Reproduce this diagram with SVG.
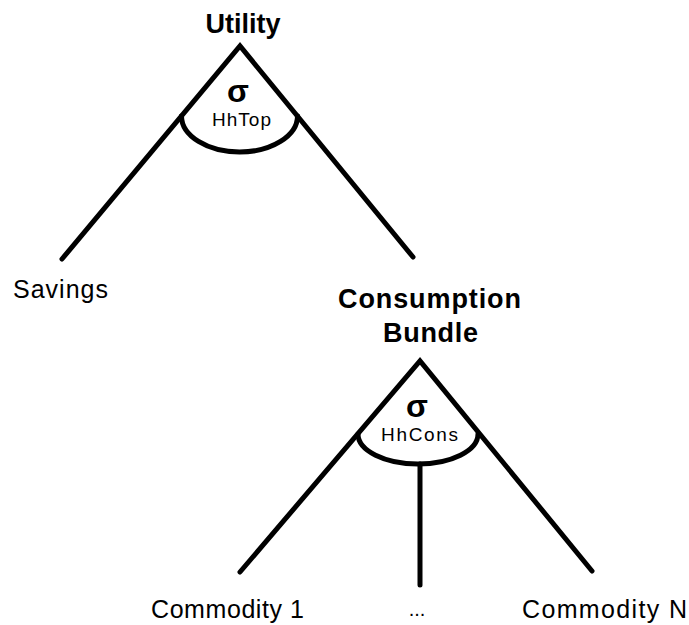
<svg xmlns="http://www.w3.org/2000/svg" width="689" height="625" viewBox="0 0 689 625">
<style>
text{font-family:"Liberation Sans",Arial,sans-serif;fill:#000}
.b{font-weight:bold;font-size:27px}
.l{font-size:25px}
.sig{font-weight:bold;font-size:32px}
.sub{font-size:19px}
.ln{stroke:#000;stroke-width:5;stroke-linecap:round;stroke-linejoin:miter;fill:none}
</style>
<rect width="689" height="625" fill="#fff"/>
<g id="connectors">
<polyline class="ln" points="62,259 240,46 413,257"/>
<polyline class="ln" points="240,572 420,361 592,571"/>
<line class="ln" x1="420" y1="464" x2="420" y2="585"/>
</g>
<g id="utility">
<text class="b" x="243" y="33" text-anchor="middle">Utility</text>
<path class="ln" d="M181.5,116 A58,36 0 0 0 297.5,116"/>
<text class="sig" x="238" y="102" text-anchor="middle">σ</text>
<text class="sub" x="212" y="126" textLength="59" lengthAdjust="spacing">HhTop</text>
</g>
<g id="savings">
<text class="l" x="13" y="298" textLength="95" lengthAdjust="spacing">Savings</text>
</g>
<g id="consumption">
<text class="b" x="338" y="308" textLength="183" lengthAdjust="spacing">Consumption</text>
<text class="b" x="383" y="342" textLength="95" lengthAdjust="spacing">Bundle</text>
<path class="ln" d="M358,434 A60,30 0 0 0 478,434"/>
<text class="sig" x="417" y="417" text-anchor="middle">σ</text>
<text class="sub" x="381" y="441" textLength="77" lengthAdjust="spacing">HhCons</text>
</g>
<g id="commodity1">
<text class="l" x="151" y="618" textLength="153" lengthAdjust="spacing">Commodity 1</text>
</g>
<g id="dots">
<text class="l" x="417" y="616" text-anchor="middle" style="font-size:20px">...</text>
</g>
<g id="commodityN">
<text class="l" x="522" y="618" textLength="165" lengthAdjust="spacing">Commodity N</text>
</g>
</svg>
